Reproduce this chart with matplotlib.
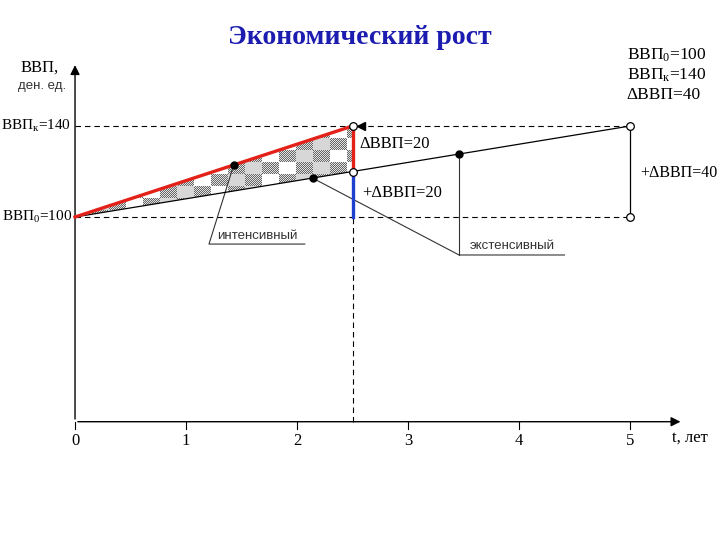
import numpy as np
import matplotlib.pyplot as plt
from matplotlib.patches import Polygon

plt.rcParams['font.family'] = ['Liberation Serif', 'DejaVu Serif']
plt.rcParams['mathtext.fontset'] = 'custom'
plt.rcParams['mathtext.rm'] = 'Liberation Serif'
plt.rcParams['mathtext.it'] = 'Liberation Serif'

# данные схемы
gdp_start = 100
gdp_final = 140
t_intensive = [0, 2.5]
gdp_intensive = [100, 140]
t_extensive = [0, 5]
gdp_extensive = [100, 140]
t_mid = 2.5
gdp_mid_ext = 120
x_ticks = [0, 1, 2, 3, 4, 5]
t_dot_int = 1.43
t_dots_ext = [2.14, 3.46]
axis_base = 10

red = '#e32119'
blue = '#1f3fd0'

fig = plt.figure(figsize=(7.2, 5.4), dpi=100)
ax = fig.add_axes([0, 0, 1, 1])
ax.set_xlim(-0.676, 5.811)
ax.set_ylim(-42.0, 195.4)
ax.axis('off')

def on_line(t, ts, gs):
    return np.interp(t, ts, gs)

# клетчатая заливка треугольника
rows, cols = 91, 278
rr, cc = np.indices((rows, cols))
cell_r, cell_c = rr // 12, cc // 17
dark = (cell_r + cell_c) % 2 == 0
light = ((cell_c // 2 + cell_r) % 2 == 0) & ~dark
img = np.ones((rows, cols))
img[light] = 0.84
dither = np.where((rr + cc) % 2 == 0, 0.4, 0.88)
img[dark] = dither[dark]
tri = Polygon([(0, gdp_start), (t_mid, gdp_intensive[1]), (t_mid, gdp_mid_ext)],
              closed=True, facecolor='none', edgecolor='none')
ax.add_patch(tri)
im = ax.imshow(img, cmap='gray', vmin=0, vmax=1, extent=[0, t_mid, 100, 140],
               aspect='auto', interpolation='nearest', origin='upper', zorder=1)
im.set_clip_path(tri)

# оси
ax.annotate('', xy=(5.48, axis_base), xytext=(0, axis_base),
            arrowprops=dict(arrowstyle='-|>', color='black', lw=1.0, mutation_scale=14))
ax.annotate('', xy=(0, 168), xytext=(0, axis_base),
            arrowprops=dict(arrowstyle='-|>', color='black', lw=1.0, mutation_scale=14))
for t in x_ticks:
    ax.plot([t, t], [axis_base, axis_base - 3], color='black', lw=0.8)
    ax.text(t, 1.5, str(t), ha='center', va='center', fontsize=12)
ax.text(5.38, 2.9, 't, лет', ha='left', va='center', fontsize=12)

# пунктиры
dash = (0, (5, 3.5))
ax.plot([0, 5], [gdp_final, gdp_final], color='black', lw=0.8, ls=dash)
ax.plot([0, 5], [gdp_start, gdp_start], color='black', lw=0.8, ls=dash)
ax.plot([t_mid, t_mid], [axis_base, gdp_start], color='black', lw=0.8, ls=dash)

# линии роста
ax.plot(t_extensive, gdp_extensive, color='black', lw=0.9, zorder=3)
ax.plot([5, 5], [gdp_start, gdp_final], color='black', lw=0.9, zorder=3)
ax.plot(t_intensive, gdp_intensive, color=red, lw=2.4, zorder=4)
ax.plot([t_mid, t_mid], [gdp_mid_ext, gdp_final], color=red, lw=2.4, zorder=4)
ax.plot([t_mid, t_mid], [gdp_start, gdp_mid_ext], color=blue, lw=2.4, zorder=4)

ax.plot([t_mid, 5, 5, t_mid], [gdp_final, gdp_final, gdp_start, gdp_mid_ext], 'o',
        ms=5.5, mfc='white', mec='black', mew=0.9, zorder=5)
ax.plot([t_mid + 0.08], [gdp_final], marker='<', ms=6, color='black', zorder=5)

# выноски
y_int = on_line(t_dot_int, t_intensive, gdp_intensive)
ax.plot([t_dot_int], [y_int], 'o', ms=5, color='black', zorder=5)
ax.plot([t_dot_int, 1.207, 2.07], [y_int, 88.1, 88.1], color='#333333', lw=0.8, zorder=2)
ax.text(1.64, 91.6, 'интенсивный', family=['Liberation Sans', 'DejaVu Sans'],
        fontsize=9.5, color='#333333', ha='center', va='center')

y_e1 = on_line(t_dots_ext[0], t_extensive, gdp_extensive)
y_e2 = on_line(t_dots_ext[1], t_extensive, gdp_extensive)
ax.plot(t_dots_ext, [y_e1, y_e2], 'o', ms=5, color='black', zorder=5)
ax.plot([t_dots_ext[0], 3.46, 4.41], [y_e1, 83.3, 83.3], color='#333333', lw=0.8)
ax.plot([t_dots_ext[1], t_dots_ext[1]], [y_e2, 83.3], color='#333333', lw=0.8)
ax.text(3.94, 87.3, 'экстенсивный', family=['Liberation Sans', 'DejaVu Sans'],
        fontsize=9.5, color='#333333', ha='center', va='center')

# подписи
ax.text(-0.315, 165.5, 'ВВП,', ha='center', va='center', fontsize=12)
ax.text(-0.30, 157.6, 'ден. ед.', family=['Liberation Sans', 'DejaVu Sans'],
        ha='center', va='center', fontsize=9.5, color='#333333')
ax.text(-0.036, 140, r'ВВП$_\mathrm{к}$=140', ha='right', va='center', fontsize=11)
ax.text(-0.03, 100, r'ВВП$_0$=100', ha='right', va='center', fontsize=11)
ax.text(2.56, 132.1, 'ΔВВП=20', ha='left', va='center', fontsize=12)
ax.text(2.585, 110.5, '+ΔВВП=20', ha='left', va='center', fontsize=12)
ax.text(5.09, 119.3, '+ΔВВП=40', ha='left', va='center', fontsize=11.5)
ax.text(4.97, 171.2, r'ВВП$_0$=100', ha='left', va='center', fontsize=12.5)
ax.text(4.97, 162.4, r'ВВП$_\mathrm{к}$=140', ha='left', va='center', fontsize=12.5)
ax.text(4.97, 153.6, 'ΔВВП=40', ha='left', va='center', fontsize=12.5)

fig.text(0.5, 1 - 38 / 540, 'Экономический рост', ha='center', va='center',
         fontsize=20, fontweight='bold', color='#1c1cb0')

fig.savefig('out.png', dpi=100)
